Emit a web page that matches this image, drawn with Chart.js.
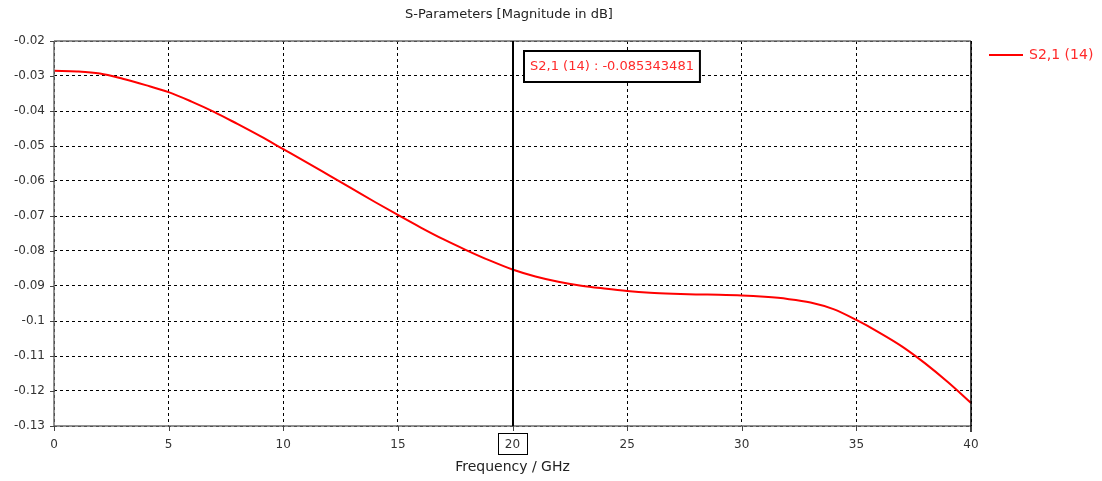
<!DOCTYPE html>
<html>
<head>
<meta charset="utf-8">
<script src="https://cdn.jsdelivr.net/npm/chart.js@4.4.0/dist/chart.umd.min.js"></script>
<style>
  html, body { margin: 0; padding: 0; background: #fff; }
  canvas { display: block; }
</style>
</head>
<body>
<canvas id="chart" width="1102" height="481"></canvas>
<script>
// frequency in GHz
const freq = [0, 1, 2, 3, 4, 5, 6, 7, 8, 9, 10, 11, 12, 13, 14, 15, 16, 17, 18, 19, 20,
              21, 22, 23, 24, 25, 26, 27, 28, 29, 30, 31, 32, 33, 34, 35, 36, 37, 38, 39, 40];
// S2,1 magnitude in dB
const s21 = [-0.0285, -0.0287, -0.0293, -0.0308, -0.0326, -0.0346, -0.0373, -0.0403, -0.0437, -0.0472, -0.0509,
             -0.0546, -0.0584, -0.0622, -0.0660, -0.0697, -0.0733, -0.0767, -0.0798, -0.0827, -0.0853,
             -0.0873, -0.0888, -0.0899, -0.0907, -0.0914, -0.0919, -0.0922, -0.0924, -0.0925, -0.0927,
             -0.0931, -0.0937, -0.0947, -0.0966, -0.0997, -0.1033, -0.1073, -0.1121, -0.1175, -0.1234];
const xTicks = [0, 5, 10, 15, 20, 25, 30, 35, 40];
const yTicks = [-0.02, -0.03, -0.04, -0.05, -0.06, -0.07, -0.08, -0.09, -0.1, -0.11, -0.12, -0.13];
const markerFreq = 20;
const markerText = "S2,1 (14) : -0.085343481";
const seriesName = "S2,1 (14)";

const FONT = "DejaVu Sans";

// frame, marker, legend, title
const decor = {
    id: "decor",
    afterDraw(chart) {
        const ctx = chart.ctx;
        const a = chart.chartArea;
        const xs = chart.scales.x;
        ctx.save();
        // frame
        ctx.lineWidth = 1.5;
        ctx.strokeStyle = "#6e6e6e";
        ctx.beginPath();
        ctx.moveTo(a.left, a.top);
        ctx.lineTo(a.right, a.top);
        ctx.moveTo(a.left, a.top);
        ctx.lineTo(a.left, a.bottom);
        ctx.lineTo(a.right, a.bottom);
        ctx.stroke();
        ctx.strokeStyle = "#000";
        ctx.beginPath();
        ctx.moveTo(a.right, a.top);
        ctx.lineTo(a.right, a.bottom + 6);
        ctx.stroke();

        // tick marks
        ctx.lineWidth = 1;
        ctx.strokeStyle = "#444";
        ctx.beginPath();
        xTicks.forEach(v => {
            const px = Math.round(xs.getPixelForValue(v)) + 0.5;
            ctx.moveTo(px, a.bottom);
            ctx.lineTo(px, a.bottom + 5);
        });
        yTicks.forEach(v => {
            const py = Math.round(chart.scales.y.getPixelForValue(v)) + 0.5;
            ctx.moveTo(a.left - 4, py);
            ctx.lineTo(a.left, py);
        });
        ctx.stroke();

        // marker line
        const mx = Math.round(xs.getPixelForValue(markerFreq));
        ctx.lineWidth = 2;
        ctx.strokeStyle = "#000";
        ctx.beginPath();
        ctx.moveTo(mx, a.top);
        ctx.lineTo(mx, a.bottom);
        ctx.stroke();

        // marker box at x axis label
        ctx.lineWidth = 1;
        ctx.strokeRect(mx - 14.5, a.bottom + 7.5, 29, 21);

        // marker readout
        ctx.font = "13px " + FONT;
        const tw = ctx.measureText(markerText).width;
        const bx = mx + 11, by = a.top + 10;
        ctx.fillStyle = "#fff";
        ctx.fillRect(bx, by, tw + 12, 31);
        ctx.lineWidth = 2;
        ctx.strokeRect(bx, by, tw + 12, 31);
        ctx.fillStyle = "#ff2a2a";
        ctx.textBaseline = "middle";
        ctx.textAlign = "left";
        ctx.fillText(markerText, bx + 6, by + 16);

        // legend
        ctx.strokeStyle = "#ff0000";
        ctx.lineWidth = 2;
        ctx.beginPath();
        ctx.moveTo(a.right + 18, 55);
        ctx.lineTo(a.right + 52, 55);
        ctx.stroke();
        ctx.font = "14px " + FONT;
        ctx.fillStyle = "#ff2a2a";
        ctx.fillText(seriesName, a.right + 58, 55);

        // title
        ctx.font = "13px " + FONT;
        ctx.fillStyle = "#222";
        ctx.textAlign = "center";
        ctx.fillText("S-Parameters [Magnitude in dB]", 509, 15);
        ctx.restore();
    }
};

new Chart(document.getElementById("chart"), {
    type: "line",
    data: {
        datasets: [{
            label: seriesName,
            data: freq.map((f, i) => ({ x: f, y: s21[i] })),
            borderColor: "#ff0000",
            borderWidth: 2,
            pointRadius: 0,
            cubicInterpolationMode: "monotone",
            fill: false
        }]
    },
    options: {
        responsive: false,
        animation: false,
        layout: { padding: { left: 0, top: 41, right: 131, bottom: 0 } },
        plugins: {
            legend: { display: false },
            tooltip: { enabled: false },
            title: { display: false }
        },
        scales: {
            x: {
                type: "linear",
                min: 0,
                max: 40,
                afterBuildTicks: s => { s.ticks = xTicks.map(v => ({ value: v })); },
                afterFit: s => { s.height = 55; },
                grid: { color: "#000", lineWidth: 1, drawTicks: false },
                border: { display: false, dash: [3, 3] },
                ticks: { color: "#333", font: { family: FONT, size: 12 }, padding: 12 },
                title: {
                    display: true,
                    text: "Frequency / GHz",
                    color: "#222",
                    font: { family: FONT, size: 14 },
                    padding: { top: 0, bottom: 5 }
                }
            },
            y: {
                type: "linear",
                min: -0.13,
                max: -0.02,
                afterBuildTicks: s => { s.ticks = yTicks.map(v => ({ value: v })); },
                afterFit: s => { s.width = 54; },
                grid: { color: "#000", lineWidth: 1, drawTicks: false },
                border: { display: false, dash: [3, 3] },
                ticks: {
                    color: "#333",
                    font: { family: FONT, size: 12 },
                    padding: 9,
                    callback: v => Number(v.toFixed(2)).toString()
                }
            }
        }
    },
    plugins: [decor]
});
</script>
</body>
</html>
